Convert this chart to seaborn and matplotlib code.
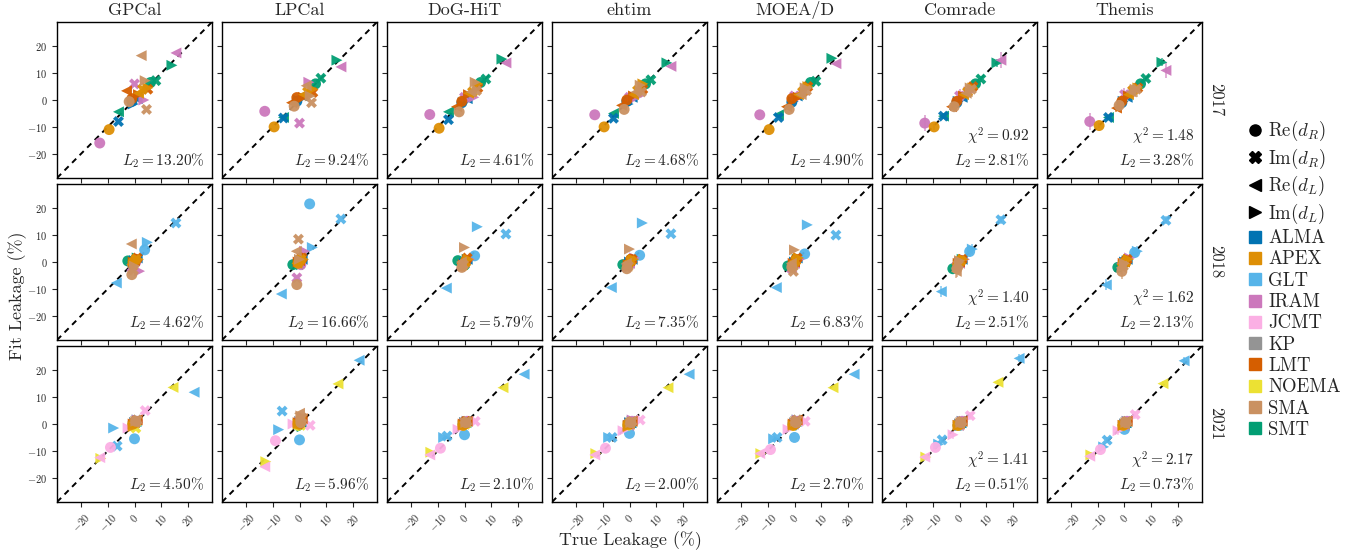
import matplotlib
matplotlib.use("Agg")
import matplotlib.pyplot as plt
from matplotlib.lines import Line2D
import seaborn as sns
import pandas as pd

# ---------------- data ----------------
methods = ["GPCal", "LPCal", "DoG-HiT", "ehtim", "MOEA/D", "Comrade", "Themis"]
years = ["2017", "2018", "2021"]
components = ["ReR", "ImR", "ReL", "ImL"]
comp_labels = [r"Re($d_R$)", r"Im($d_R$)", r"Re($d_L$)", r"Im($d_L$)"]
all_stations = ["ALMA", "APEX", "GLT", "IRAM", "JCMT", "KP", "LMT", "NOEMA", "SMA", "SMT"]
station_colors = ["#0173b2", "#de8f05", "#56b4e9", "#cc78bc", "#fbafe4",
                  "#949494", "#d55e00", "#ece133", "#ca9161", "#029e73"]
draw_order = ["SMT", "ALMA", "KP", "GLT", "IRAM", "NOEMA", "JCMT", "LMT", "APEX", "SMA"]

# ---- 2017 ----  rows: station, columns: ReR, ImR, ReL, ImL
stations_2017 = ["ALMA", "APEX", "IRAM", "LMT", "SMA", "SMT"]
true_2017 = [[-1.0, -6.0, 1.0, -0.5], [-9.5, 3.0, 1.5, 5.0], [-13.0, 0.0, 15.5, 3.5],
             [-1.0, 5.0, -3.0, 1.5], [-2.0, 4.5, 2.5, 4.0], [6.0, 8.0, -6.0, 14.0]]
gpcal_2017 = [[-0.5, -8.0, 0.5, -1.5], [-11.0, 4.0, 2.5, 4.5], [-16.0, 6.0, 17.5, 0.0],
              [0.5, 4.0, 3.4, 2.0], [-0.6, -3.5, 16.5, 7.2], [6.5, 7.2, -4.4, 12.9]]
lpcal_2017 = [[-0.5, -6.7, 1.5, 0.0], [-10.0, 3.0, 2.0, 4.0], [-4.2, -8.6, 12.3, 6.6],
              [0.9, 2.8, -1.0, 1.0], [-2.3, -1.0, 5.3, 1.5], [6.0, 8.1, -6.5, 14.8]]
doghit_2017 = [[-1.0, -7.3, 0.5, -1.0], [-10.5, 3.0, 2.5, 6.0], [-5.4, 1.0, 13.8, 1.0],
               [-0.5, 4.5, -2.5, 2.0], [-4.4, 3.5, 3.0, 6.6], [6.5, 7.8, -4.4, 15.2]]
ehtim_2017 = [[-0.5, -6.8, 1.0, -1.5], [-10.0, 3.5, 2.0, 6.0], [-5.5, 1.0, 12.5, 1.5],
              [0.0, 4.0, -2.0, 1.5], [-3.5, 3.0, 3.0, 5.5], [6.0, 7.5, -5.0, 13.8]]
moead_2017 = [[-0.8, -6.5, 1.5, -0.5], [-11.0, 3.0, 2.0, 5.0], [-5.5, 1.5, 13.5, 2.0],
              [0.5, 5.0, -2.5, 1.0], [-3.5, 3.5, 2.0, 4.5], [6.5, 7.0, -5.5, 15.5]]
comrade_2017 = [[-1.0, -6.0, 1.0, -0.5], [-10.0, 3.0, 2.0, 4.5], [-8.6, 1.5, 14.8, 3.0],
                [-0.5, 5.0, -2.5, 1.5], [-2.5, 4.0, 2.5, 4.5], [6.0, 7.8, -6.0, 13.8]]
themis_2017 = [[-1.0, -6.5, 1.0, -0.5], [-9.5, 3.5, 2.0, 4.5], [-8.0, 2.0, 11.0, 3.0],
               [-0.5, 4.5, -3.0, 1.5], [-2.0, 4.0, 3.0, 4.0], [6.0, 8.0, -6.5, 14.0]]
err_2017 = [[0.5, 0.5, 0.5, 0.5], [1.0, 1.0, 1.0, 1.0], [3.0, 2.5, 3.0, 2.0],
            [1.5, 2.0, 1.5, 1.5], [1.5, 3.0, 1.5, 2.0], [1.0, 1.0, 1.0, 1.5]]

# ---- 2018 ----
stations_2018 = ["ALMA", "APEX", "GLT", "IRAM", "LMT", "SMA", "SMT"]
true_2018 = [[0.5, -0.5, 1.0, 0.0], [-0.5, 0.5, -1.0, 1.5], [3.8, 15.5, -6.8, 4.8],
             [0.5, -1.0, 0.0, 1.9], [0.5, 1.0, 0.0, -0.5], [-1.0, -0.4, -1.2, 0.0],
             [-2.5, 0.0, -1.5, 1.0]]
gpcal_2018 = [[0.5, -0.5, 1.5, 0.5], [0.0, 1.0, -1.0, 1.0], [4.5, 14.5, -7.8, 7.3],
              [0.0, -2.0, 0.5, -3.4], [1.0, 1.5, 0.5, 0.0], [-4.7, -3.0, 6.7, -1.5],
              [0.4, 0.5, -1.0, 1.5]]
lpcal_2018 = [[0.5, 0.0, 1.0, 0.5], [-0.5, 1.0, -0.5, 1.0], [21.6, 16.0, -11.9, 5.4],
              [-1.0, -5.9, 0.5, 4.0], [1.5, 1.5, 0.5, 0.0], [-8.4, 8.5, 4.0, 1.0],
              [-1.0, -1.0, -0.5, 0.5]]
doghit_2018 = [[0.0, -1.0, 1.0, -0.5], [-1.5, 0.0, -0.5, 1.0], [2.3, 10.4, -9.7, 13.1],
               [0.5, -1.5, 0.0, 1.0], [0.5, 1.5, 0.5, -1.0], [-2.0, -1.0, 0.0, 5.4],
               [0.5, -1.0, -1.0, 1.0]]
ehtim_2018 = [[0.5, -1.0, 1.0, 0.0], [-1.0, 0.5, -1.5, 1.0], [2.5, 10.5, -9.5, 14.5],
              [0.0, -2.0, -0.5, 1.5], [1.0, 1.0, 0.5, -1.0], [-2.5, -1.5, -0.5, 4.8],
              [-1.0, -0.5, -1.5, 0.5]]
moead_2018 = [[0.5, -0.5, 1.5, 0.0], [-1.0, 0.5, -1.0, 1.5], [3.0, 10.0, -9.5, 13.8],
              [0.5, -2.5, -0.5, 1.0], [1.0, 1.5, 0.0, -0.5], [-2.0, -3.5, -0.5, 4.5],
              [-1.5, -0.5, -1.5, 1.0]]
comrade_2018 = [[0.5, -0.5, 1.0, 0.0], [-0.5, 0.5, -1.0, 1.0], [3.9, 15.7, -11.0, 4.8],
                [0.5, -1.5, -0.5, 1.0], [0.5, 1.0, 0.0, -0.5], [-2.5, -1.0, -3.5, 0.5],
                [-2.5, 0.0, -1.5, 1.0]]
themis_2018 = [[0.5, -0.5, 1.0, 0.0], [-0.5, 0.0, -1.0, 1.0], [3.5, 15.5, -8.5, 4.0],
               [0.5, -1.5, 0.0, 1.5], [0.5, 1.0, 0.0, -0.5], [-3.5, -1.5, -2.0, -0.5],
               [-2.0, 0.0, -1.5, 0.5]]
err_2018 = [[0.5, 0.5, 0.5, 0.5], [1.0, 1.0, 1.0, 1.0], [1.5, 1.5, 2.0, 2.0],
            [1.5, 1.5, 1.5, 1.5], [1.0, 1.0, 1.0, 1.0], [3.0, 2.0, 2.5, 2.0],
            [1.0, 1.0, 1.0, 1.0]]

# ---- 2021 ----
stations_2021 = ["ALMA", "APEX", "GLT", "IRAM", "JCMT", "KP", "LMT", "NOEMA", "SMA", "SMT"]
true_2021 = [[0.5, -0.5, 0.5, 0.0], [-0.5, 0.5, 0.0, -0.5], [0.0, -6.5, 22.3, -7.8],
             [1.0, 0.0, -0.5, 1.0], [-9.0, 4.0, -13.0, -2.4], [0.5, 1.0, -0.5, 0.0],
             [0.0, 0.5, 1.0, -0.5], [-0.5, 0.5, 14.4, -12.6], [0.5, 1.0, 0.0, 0.5],
             [-0.5, 0.0, 0.5, 1.0]]
gpcal_2021 = [[0.5, 0.0, 1.0, 0.5], [0.0, 1.0, 0.5, -1.0], [-5.5, -8.2, 11.8, -1.5],
              [1.0, 0.5, 0.0, 1.5], [-8.7, 5.0, -12.5, -1.5], [1.0, 1.5, 0.0, 0.5],
              [0.5, 1.0, 1.5, 0.0], [0.0, -1.5, 13.6, -12.8], [1.0, 1.5, 0.5, 1.0],
              [0.0, 0.5, 1.0, 1.5]]
lpcal_2021 = [[0.5, 0.5, 1.0, 0.5], [0.0, 1.5, 1.0, 0.0], [-5.9, 4.8, 23.7, -2.1],
              [1.5, 1.0, 0.0, 2.5], [-6.2, -0.5, -15.9, 0.0], [0.5, 2.0, 0.5, 1.0],
              [0.0, 1.0, 2.0, 0.5], [-0.5, -0.5, 14.9, -14.0], [0.5, 2.3, 4.0, 3.0],
              [-0.5, 0.5, 1.0, -1.0]]
doghit_2021 = [[0.5, 0.0, 1.0, 0.5], [-0.5, 0.5, 0.5, -0.5], [-4.0, -4.5, 18.5, -5.0],
               [1.0, 0.5, 0.0, 1.0], [-9.0, 1.0, -11.5, -2.0], [0.5, 1.0, 0.0, 0.5],
               [0.0, 1.0, 1.0, 0.0], [-0.5, 0.0, 13.5, -10.5], [0.5, 1.0, 0.5, 0.5],
               [0.0, 0.5, 0.5, 1.0]]
ehtim_2021 = [[0.5, 0.0, 0.5, 0.5], [0.0, 0.5, 0.0, -1.0], [-3.5, -5.0, 18.5, -5.0],
              [1.0, 0.0, -0.5, 1.5], [-9.0, 1.5, -11.5, -2.5], [0.5, 1.0, -0.5, 0.0],
              [0.0, 0.5, 1.0, -0.5], [-0.5, 0.5, 13.5, -11.0], [0.5, 1.0, 0.0, 0.5],
              [-0.5, 0.0, 0.5, 1.0]]
moead_2021 = [[0.5, -0.5, 1.0, 0.0], [-0.5, 0.5, 0.5, -0.5], [-5.0, -5.0, 18.5, -5.5],
              [1.0, 0.5, 0.0, 1.5], [-9.5, 1.0, -11.0, -2.0], [0.5, 1.5, 0.0, 0.5],
              [0.0, 1.0, 1.5, 0.0], [-0.5, 0.5, 13.5, -11.0], [0.5, 1.5, 0.5, 1.0],
              [0.0, 0.5, 1.0, 1.5]]
comrade_2021 = [[0.5, -0.5, 0.5, 0.0], [-0.5, 0.5, 0.0, -0.5], [-0.5, -5.9, 24.4, -7.5],
                [1.0, 0.0, -0.5, 1.0], [-8.7, 3.1, -12.3, -4.0], [0.5, 1.0, -0.5, 0.0],
                [0.0, 0.5, 1.0, -0.5], [-0.5, 0.5, 15.5, -12.3], [0.5, 1.0, 0.0, 0.5],
                [-0.5, 0.0, 0.5, 1.0]]
themis_2021 = [[0.5, -0.5, 0.5, 0.0], [-0.5, 0.5, 0.0, -0.5], [-2.0, -6.0, 23.5, -8.5],
               [1.0, 0.0, -0.5, 1.0], [-9.5, 3.5, -12.0, -2.5], [0.5, 1.0, -0.5, 0.0],
               [0.0, 0.5, 1.0, -0.5], [-0.5, 0.5, 15.0, -11.5], [0.5, 1.0, 0.0, 0.5],
               [-0.5, 0.0, 0.5, 1.0]]
err_2021 = [[0.5, 0.5, 0.5, 0.5], [1.0, 1.0, 1.0, 1.0], [1.0, 1.0, 1.5, 1.0],
            [1.0, 1.0, 1.0, 1.0], [1.0, 1.5, 1.0, 1.5], [1.0, 1.0, 1.0, 1.0],
            [1.0, 1.0, 1.0, 1.0], [1.0, 1.0, 1.0, 1.0], [1.0, 1.0, 1.0, 1.0],
            [1.0, 1.0, 1.0, 1.0]]

# L2 metric (%) per year, per method; chi^2 for Comrade and Themis
l2_2017 = [13.20, 9.24, 4.61, 4.68, 4.90, 2.81, 3.28]
l2_2018 = [4.62, 16.66, 5.79, 7.35, 6.83, 2.51, 2.13]
l2_2021 = [4.50, 5.96, 2.10, 2.00, 2.70, 0.51, 0.73]
chi2_2017 = [0.92, 1.48]
chi2_2018 = [1.40, 1.62]
chi2_2021 = [1.41, 2.17]

tick_values = [-20, -10, 0, 10, 20]

# ---------------- assemble ----------------
year_data = {
    "2017": (stations_2017, true_2017, [gpcal_2017, lpcal_2017, doghit_2017, ehtim_2017,
                                        moead_2017, comrade_2017, themis_2017], err_2017,
             l2_2017, chi2_2017),
    "2018": (stations_2018, true_2018, [gpcal_2018, lpcal_2018, doghit_2018, ehtim_2018,
                                        moead_2018, comrade_2018, themis_2018], err_2018,
             l2_2018, chi2_2018),
    "2021": (stations_2021, true_2021, [gpcal_2021, lpcal_2021, doghit_2021, ehtim_2021,
                                        moead_2021, comrade_2021, themis_2021], err_2021,
             l2_2021, chi2_2021),
}

records = []
for year, (stas, truth, fits, errs, _, _) in year_data.items():
    for mi, m in enumerate(methods):
        for s in draw_order:
            if s not in stas:
                continue
            si = stas.index(s)
            for ci, c in enumerate(components):
                records.append(dict(year=year, method=m, station=s, comp=c,
                                    true=truth[si][ci], fit=fits[mi][si][ci],
                                    err=errs[si][ci]))
df = pd.DataFrame(records)

palette = dict(zip(all_stations, station_colors))
markers = {"ReR": "o", "ImR": "X", "ReL": "<", "ImL": ">"}

# ---------------- style ----------------
sns.set_style("ticks")
plt.rcParams["font.family"] = "serif"
plt.rcParams["font.serif"] = ["cmr10", "DejaVu Serif"]
plt.rcParams["mathtext.fontset"] = "cm"
plt.rcParams["axes.formatter.use_mathtext"] = True
plt.rcParams["axes.unicode_minus"] = True
plt.rcParams["axes.edgecolor"] = "black"
plt.rcParams["axes.linewidth"] = 1.0

fig = plt.figure(figsize=(13.62, 5.58), dpi=100)
axes = fig.subplots(3, 7, sharex=True, sharey=True)
fig.subplots_adjust(left=57 / 1362, right=1202 / 1362, bottom=1 - 502 / 558,
                    top=1 - 22 / 558, wspace=10 / 155, hspace=6 / 156)

lim = 29
for r, year in enumerate(years):
    l2 = year_data[year][4]
    chi2 = year_data[year][5]
    for c, m in enumerate(methods):
        ax = axes[r, c]
        d = df[(df.year == year) & (df.method == m)]
        ax.plot([-lim, lim], [-lim, lim], color="black", lw=1.4,
                linestyle=(0, (3, 2.5)), zorder=1)
        if m in ("Comrade", "Themis"):
            for s, g in d.groupby("station", sort=False):
                ax.errorbar(g["true"], g["fit"], yerr=g["err"], fmt="none",
                            ecolor=palette[s], elinewidth=1.4, alpha=0.6, zorder=2)
        sns.scatterplot(data=d, x="true", y="fit", hue="station", style="comp",
                        palette=palette, markers=markers, hue_order=all_stations,
                        style_order=components, s=62, linewidth=0, alpha=0.95,
                        legend=False, ax=ax, zorder=3)
        ax.set_xlim(-lim, lim)
        ax.set_ylim(-lim, lim)
        ax.set_xticks(tick_values)
        ax.set_yticks(tick_values)
        ax.set_xlabel("")
        ax.set_ylabel("")
        ax.tick_params(labelsize=7.5, length=3.5, width=0.8, direction="out")
        if r == 2:
            for lab in ax.get_xticklabels():
                lab.set_rotation(45)
        txt = r"$L_2 = %.2f\%%$" % l2[c]
        ax.text(0.95, 0.05, txt, transform=ax.transAxes, ha="right", va="bottom",
                fontsize=11)
        if m in ("Comrade", "Themis"):
            ax.text(0.95, 0.20, r"$\chi^2 = %.2f$" % chi2[c - 5], transform=ax.transAxes,
                    ha="right", va="bottom", fontsize=11)
        if r == 0:
            ax.set_title(m, fontsize=13, pad=5)
        if c == 6:
            ax.text(1.04, 0.5, year, transform=ax.transAxes, rotation=270,
                    ha="left", va="center", fontsize=12)

fig.text(0.463, 0.015, "True Leakage (%)", ha="center", va="bottom", fontsize=13)
fig.text(0.006, 0.47, "Fit Leakage (%)", ha="left", va="center", rotation=90, fontsize=13)

handles = []
for comp, lab in zip(components, comp_labels):
    handles.append(Line2D([], [], marker=markers[comp], color="black", linestyle="",
                          markersize=8, label=lab))
for s, col in zip(all_stations, station_colors):
    handles.append(Line2D([], [], marker="s", color=col, linestyle="", markersize=8,
                          label=s))
fig.legend(handles=handles, loc="center left", bbox_to_anchor=(0.909, 0.5),
           frameon=False, fontsize=13.5, handletextpad=0.2, labelspacing=0.18,
           handlelength=1.0, borderaxespad=0)

fig.savefig("out.png", dpi=100)
